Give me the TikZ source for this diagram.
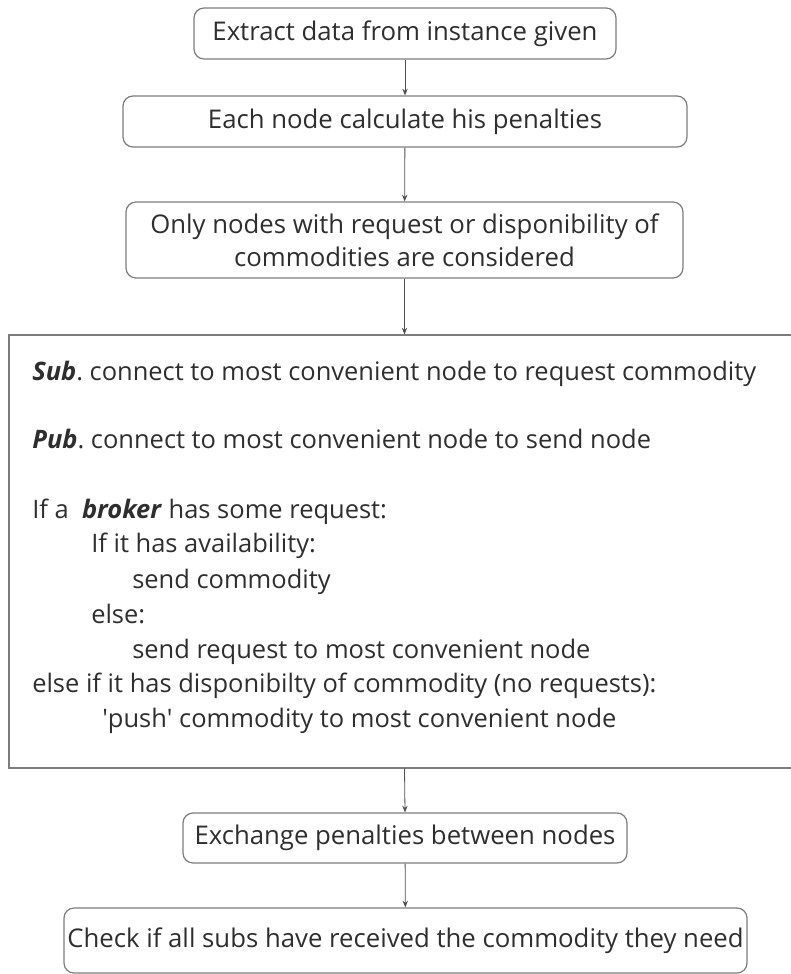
\documentclass[tikz,border=0pt]{standalone}
\usepackage{fontspec}
\setmainfont{Open Sans}
\usetikzlibrary{arrows.meta}
\definecolor{ink}{HTML}{2E2E2E}
\definecolor{edge}{HTML}{7C7C7C}
\definecolor{wire}{HTML}{505050}
\newcommand{\kw}[1]{\textbf{\textit{#1\nocorr}}}
\frenchspacing

\begin{document}
\begin{tikzpicture}[x=0.75pt,y=-0.75pt,
  stepbox/.style={draw=edge, rounded corners=7.5pt, line width=0.9pt, text=ink,
    align=center, inner sep=0pt, font=\fontsize{19.3}{25}\selectfont},
  panelbox/.style={draw=edge, line width=0.9pt, inner sep=0pt},
  codeline/.style={anchor=base west, inner sep=0pt, text=ink,
    font=\fontsize{19.1}{25}\selectfont},
  flow/.style={draw=wire, line width=0.6pt, -{Stealth[length=5pt,width=4pt]}}
]
\useasboundingbox (0,0) rectangle (791,974);

% process steps
\node[stepbox, minimum width=316.5pt, minimum height=38.25pt] (extract) at (405,33.5)
  {Extract data from instance given};
\node[stepbox, minimum width=423pt, minimum height=38.25pt] (penal) at (405,121.5)
  {Each node calculate his penalties};
\node[stepbox, minimum width=417.75pt, minimum height=57pt] (filter) at (404.5,240)
  {Only nodes with request or disponibility of\\commodities are considered};

% main decision panel (runs past the right edge)
\node[panelbox, minimum width=597pt, minimum height=324.75pt] (panel) at (407,551.5) {};

\node[codeline] (sub) at (32,380) {\kw{Sub}. connect to most convenient node to request commodity};
\node[codeline] (pub) at (32,448) {\kw{Pub}. connect to most convenient node to send node};
\node[codeline] (brk) at (32,518) {If a\ \ \kw{broker} has some request:};
\node[codeline] (avail) at (91,552) {If it has availability:};
\node[codeline] (sendc) at (132,588) {send commodity};
\node[codeline] (els) at (91,623) {else:};
\node[codeline] (sendr) at (132,658) {send request to most convenient node};
\node[codeline] (elif) at (32,692) {else if it has disponibilty of commodity (no requests):};
\node[codeline] (push) at (102,727) {\textquotesingle push\textquotesingle{} commodity to most convenient node};

\node[stepbox, minimum width=333pt, minimum height=37.5pt] (exch) at (405,838)
  {Exchange penalties between nodes};
\node[stepbox, minimum width=512.25pt, minimum height=48.75pt] (check) at (405.5,940.5)
  {Check if all subs have received the commodity they need};

% connectors
\draw[flow] (extract) -- (penal);
\draw[flow] (penal) -- (filter);
\draw[flow] (filter.south) -- (filter.south |- panel.north);
\draw[flow] (filter.south |- panel.south) -- (exch.north);
\draw[flow] (exch) -- (check);
\end{tikzpicture}
\end{document}
